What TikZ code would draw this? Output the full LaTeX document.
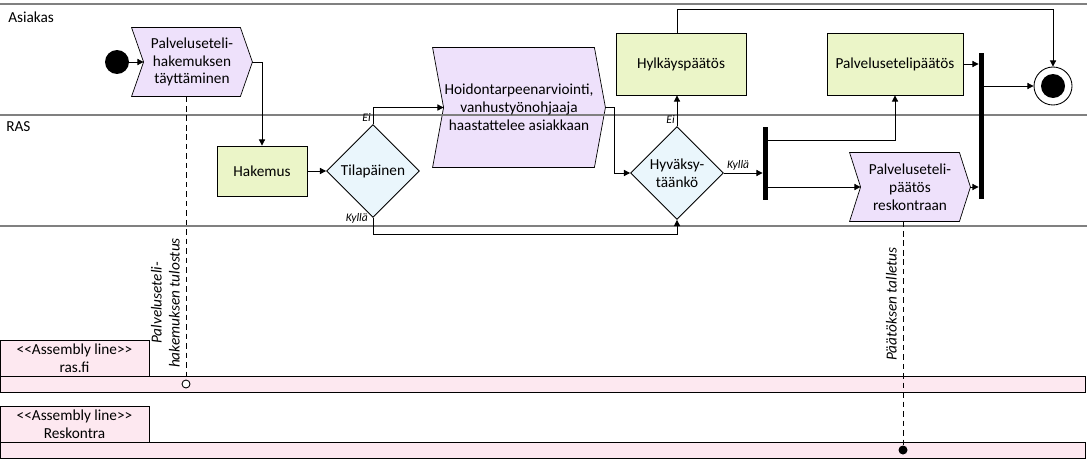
\documentclass[tikz,border=0pt]{standalone}
\usepackage{fontspec}
\setmainfont{Carlito}
\usetikzlibrary{positioning,calc,arrows.meta,backgrounds,shapes.geometric}
\definecolor{taskfill}{RGB}{238,225,251}
\definecolor{docfill}{RGB}{235,245,200}
\definecolor{decfill}{RGB}{234,246,252}
\definecolor{asmfill}{RGB}{253,232,240}
\def\LaneWidth{1087}
\def\AsmTag{\textless\kern0pt\textless Assembly line\textgreater\kern0pt\textgreater}
\tikzset{
  lane/.style={draw=gray, line width=0.6pt},
  flow/.style={-{Triangle[length=3.5pt,width=3.5pt]}},
  task/.style={align=center, inner sep=0pt},
  taskshape/.style={draw, fill=taskfill},
  doc/.style={draw, fill=docfill, inner sep=0pt, minimum height=1.24cm},
  choice/.style={draw, diamond, fill=decfill, inner sep=0pt, align=center,
    minimum width=1.86cm, minimum height=1.86cm},
  answer/.style={font=\fontsize{6.6}{7}\selectfont\itshape, inner sep=1pt},
  syncbar/.style={fill=black, inner sep=0pt, minimum width=0.1cm},
  asmbox/.style={draw, fill=asmfill, inner sep=0pt, align=center},
  storeline/.style={dash pattern=on 3.2pt off 2.2pt},
}

\begin{document}
\begin{tikzpicture}[x=0.02cm, y=-0.02cm, line width=0.5pt,
    font=\fontsize{8.7}{10.2}\selectfont]
  \useasboundingbox (0,0) rectangle (\LaneWidth,470);
  % swimlanes
  \draw[lane] (0,4) -- (\LaneWidth,4);
  \draw[lane] (0,115) -- (\LaneWidth,115);
  \draw[lane] (0,226) -- (\LaneWidth,226);
  \node[anchor=west] (asiakas) at (2,17) {Asiakas};
  \node[anchor=west] (ras) at (0,127) {RAS};
  %
  \node[circle, fill=black, minimum size=0.48cm, inner sep=0pt] (start) at (117,62) {};
  \node[task, minimum width=2.4cm, minimum height=1.36cm] (fill) at (192,62)
    {Palveluseteli-\\hakemuksen\\täyttäminen};
  \node[doc, minimum width=1.8cm, minimum height=1cm] (hak) at (262,171) {Hakemus};
  \node[choice] (tila) at (373,171) {Tilapäinen};
  \node[task, minimum width=3.44cm, minimum height=2.38cm] (arvio) at (519,107.5)
    {Hoidontarpeenarviointi,\\vanhustyönohjaaja\\haastattelee asiakkaan};
  \node[choice] (hyv) at (677,173) {Hyväksy-\\täänkö};
  \node[doc, minimum width=2.6cm] (hyl) at (681,64) {Hylkäyspäätös};
  \node[syncbar, minimum height=1.46cm] (bar1) at (765.5,163.5) {};
  \node[doc, minimum width=2.72cm] (pal) at (895,64) {Palvelusetelipäätös};
  \node[task, minimum width=2.4cm, minimum height=1.36cm] (resk) at (910,187)
    {Palveluseteli-\\päätös\\reskontraan};
  \node[syncbar, minimum height=2.92cm] (bar2) at (981.5,126) {};
  \node[circle, draw, minimum size=0.76cm, inner sep=0pt] (end) at (1053,86) {};
  \node[circle, fill=black, minimum size=0.48cm, inner sep=0pt] (endcore) at (end) {};
  % task outlines
  \begin{scope}[on background layer]
    \foreach \n/\d in {fill/12,arvio/11,resk/11}
      \draw[taskshape] (\n.north west) -- ($(\n.north east)+(-\d,0)$) -- (\n.east)
        -- ($(\n.south east)+(-\d,0)$) -- (\n.south west) -- ($(\n.west)+(\d,0)$) -- cycle;
  \end{scope}
  % assembly lines
  \node[asmbox, minimum width=2.98cm, minimum height=0.72cm] (rasbox) at (74.5,358)
    {\AsmTag\\ras.fi};
  \node[asmbox, minimum width=21.72cm, minimum height=0.32cm] (rasline) at (543,384) {};
  \node[asmbox, minimum width=2.98cm, minimum height=0.72cm] (reskbox) at (74.5,424)
    {\AsmTag\\Reskontra};
  \node[asmbox, minimum width=21.72cm, minimum height=0.32cm] (reskline) at (543,450) {};
  \node[circle, draw, fill=white, minimum size=0.16cm, inner sep=0pt] (rasport) at (186,384) {};
  \node[circle, fill=black, minimum size=0.18cm, inner sep=0pt] (reskport) at (903,450) {};
  % flows
  \draw[flow] (start) -- ($(fill.west)+(12,0)$);
  \draw[flow] (fill.east) -| (hak.north);
  \draw[flow] (hak.east) -- (tila.west);
  \draw[flow] (tila.north) |- ($(arvio.west)+(11,0)$);
  \node[answer, anchor=south east] (tilaei) at (tila.north) {Ei};
  \draw[flow] (tila.south) -- ++(0,17) -| (hyv.south);
  \node[answer, anchor=east] (tilakylla) at ($(tila.south)+(-3,0)$) {Kyllä};
  \draw[flow] (arvio.east) -- ++(9,0) |- (hyv.west);
  \draw[flow] (hyv.north) -- (hyv.north |- hyl.south);
  \node[answer, anchor=south east] (hyvei) at (hyv.north) {Ei};
  \draw[flow] (hyv.east) -- (hyv.east -| bar1.west);
  \node[answer, anchor=south west] (hyvkylla) at ($(hyv.east)+(1,0)$) {Kyllä};
  \draw[flow] (hyl.north -| hyv.north) -- ++(0,-23) -| (end.north);
  \draw[flow] ($(bar1.east)+(0,-23.5)$) -| (pal.south);
  \draw[flow] (bar1.east |- resk.west) -- ($(resk.west)+(11,0)$);
  \draw[flow] (pal.east) -- (pal.east -| bar2.west);
  \draw[flow] (resk.east) -- (resk.east -| bar2.west);
  \draw[flow] (bar2.east |- end.west) -- (end.west);
  % data stores
  \draw[storeline] ($(fill.south)+(-6,0)$) -- (rasport.north);
  \node[rotate=90, anchor=south, align=center, font=\fontsize{8.7}{10.2}\selectfont\itshape]
    (tulostus) at (186,303) {Palveluseteli-\\hakemuksen tulostus};
  \draw[storeline] ($(resk.south)+(-7,0)$) -- (reskport);
  \node[rotate=90, anchor=south, font=\fontsize{8.7}{10.2}\selectfont\itshape]
    (talletus) at (903,304) {Päätöksen talletus};
\end{tikzpicture}
\end{document}
